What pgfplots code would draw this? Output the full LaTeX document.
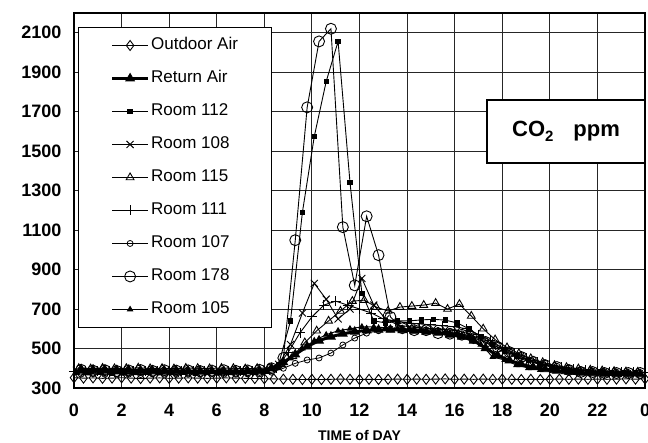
\documentclass[border=0pt]{standalone}
\usepackage{fontspec}
\setmainfont{Liberation Sans}
\usepackage{pgfplots}
\pgfplotsset{compat=1.18}

\begin{document}
\begin{tikzpicture}
\begin{axis}[
  at={(0pt,0pt)}, anchor=south west,
  scale only axis, width=571pt, height=375pt,
  xmin=0, xmax=24, ymin=300, ymax=2200,
  xtick={0,2,4,6,8,10,12,14,16,18,20,22,24},
  xticklabels={0,2,4,6,8,10,12,14,16,18,20,22,0},
  ytick={300,500,700,900,1100,1300,1500,1700,1900,2100},
  /pgf/number format/1000 sep={},
  /pgf/number format/assume math mode=true,
  tick label style={font=\bfseries\fontsize{18}{20}\selectfont},
  yticklabel style={xshift=-9pt},
  xticklabel style={anchor=north, text height=13pt, text depth=0pt, yshift=-12pt},
  tick style={draw=none},
  grid=major,
  grid style={black!85, line width=1pt},
  axis line style={line width=2pt},
  xlabel={TIME of DAY},
  xlabel style={font=\bfseries\fontsize{14}{16}\selectfont, at={(axis description cs:0.5,0)}, anchor=center, yshift=-48pt},
  legend image code/.code={\draw[mark repeat=2,mark phase=2] plot coordinates {(0pt,0pt)(18pt,0pt)(36pt,0pt)};},
  legend style={at={(rel axis cs:0.007,0.963)}, anchor=north west,
    draw=black, line width=1.2pt, fill=white,
    font=\fontsize{17}{20}\selectfont,
    inner xsep=32pt, inner ysep=8.5pt, row sep=14pt,
    nodes={inner sep=1.5pt, text height=12pt, text depth=4pt},
    cells={anchor=west}},
]

% Outdoor Air
\addplot[black, line width=0.9pt, mark=diamond, mark size=5pt, mark options={fill=white, line width=0.9pt}] table {
0.0 352
0.4 350
0.8 351
1.2 349
1.6 350
2.0 352
2.4 350
2.8 348
3.2 350
3.6 351
4.0 349
4.4 350
4.8 351
5.2 350
5.6 349
6.0 350
6.4 351
6.8 350
7.2 349
7.6 348
8.0 347
8.4 346
8.8 345
9.2 344
9.6 343
10.0 344
10.4 343
10.8 344
11.2 345
11.6 344
12.0 343
12.4 344
12.8 343
13.2 344
13.6 345
14.0 344
14.4 345
14.8 344
15.2 345
15.6 346
16.0 344
16.4 345
16.8 344
17.2 345
17.6 344
18.0 345
18.4 344
18.8 343
19.2 344
19.6 343
20.0 344
20.4 345
20.8 344
21.2 345
21.6 344
22.0 345
22.4 344
22.8 345
23.2 346
23.6 345
24.0 346
};
\addlegendentry{Outdoor Air}

% Return Air
\addplot[black, line width=3pt, mark=triangle*, mark size=5pt, mark options={line width=0.8pt}] table {
0.3 395
0.8 393
1.3 392
1.8 390
2.3 390
2.8 388
3.3 388
3.8 387
4.3 387
4.8 386
5.3 386
5.8 385
6.3 385
6.8 385
7.3 386
7.8 388
8.3 400
8.8 430
9.3 470
9.8 510
10.3 540
10.8 560
11.3 575
11.8 585
12.3 592
12.8 595
13.3 595
13.8 593
14.3 590
14.8 585
15.3 580
15.8 570
16.3 560
16.8 540
17.3 502
17.8 465
18.3 440
18.8 420
19.3 405
19.8 395
20.3 388
20.8 382
21.3 378
21.8 375
22.3 372
22.8 370
23.3 370
23.8 370
};
\addlegendentry{Return Air}

% Room 112
\addplot[black, line width=0.9pt, mark=square*, mark size=2.2pt] table {
0.1 380
0.6 378
1.1 381
1.6 377
2.1 380
2.6 379
3.1 382
3.6 378
4.1 380
4.6 379
5.1 377
5.6 380
6.1 381
6.6 378
7.1 380
7.6 379
8.1 385
8.6 420
9.1 640
9.6 1190
10.1 1575
10.6 1853
11.1 2056
11.6 1342
12.1 780
12.6 640
13.1 630
13.6 640
14.1 640
14.6 645
15.1 648
15.6 644
16.1 630
16.6 600
17.1 560
17.6 520
18.1 488
18.6 460
19.1 440
19.6 420
20.1 405
20.6 395
21.1 390
21.6 385
22.1 382
22.6 380
23.1 380
23.6 379
};
\addlegendentry{Room 112}

% Room 108
\addplot[black, line width=0.9pt, mark=x, mark size=5pt, mark options={line width=0.9pt}] table {
0.1 390
0.6 388
1.1 391
1.6 389
2.1 390
2.6 387
3.1 390
3.6 389
4.1 391
4.6 388
5.1 390
5.6 389
6.1 388
6.6 390
7.1 389
7.6 391
8.1 395
8.6 420
9.1 520
9.6 680
10.1 830
10.6 750
11.1 650
11.6 700
12.1 855
12.6 720
13.1 650
13.6 620
14.1 610
14.6 605
15.1 600
15.6 595
16.1 590
16.6 575
17.1 545
17.6 510
18.1 480
18.6 455
19.1 435
19.6 420
20.1 408
20.6 398
21.1 390
21.6 385
22.1 382
22.6 380
23.1 378
23.6 378
};
\addlegendentry{Room 108}

% Room 115
\addplot[black, line width=0.9pt, mark=triangle, mark size=4.5pt, mark options={fill=white, line width=0.9pt}] table {
0.2 400
0.7 398
1.2 401
1.7 399
2.2 400
2.7 402
3.2 399
3.7 400
4.2 398
4.7 401
5.2 400
5.7 399
6.2 401
6.7 400
7.2 398
7.7 400
8.2 402
8.7 420
9.2 460
9.7 530
10.2 590
10.7 640
11.2 690
11.7 740
12.2 745
12.7 710
13.2 690
13.7 710
14.2 715
14.7 720
15.2 730
15.7 700
16.2 725
16.7 665
17.2 600
17.7 545
18.2 505
18.7 475
19.2 450
19.7 430
20.2 415
20.7 405
21.2 398
21.7 392
22.2 388
22.7 385
23.2 383
23.7 382
};
\addlegendentry{Room 115}

% Room 111
\addplot[black, line width=0.9pt, mark=+, mark size=5pt, mark options={line width=0.9pt}] table {
0.0 385
0.5 384
1.0 386
1.5 385
2.0 383
2.5 385
3.0 386
3.5 384
4.0 385
4.5 386
5.0 384
5.5 385
6.0 383
6.5 385
7.0 386
7.5 384
8.0 388
8.5 400
9.0 480
9.5 580
10.0 660
10.5 720
11.0 740
11.5 720
12.0 700
12.5 680
13.0 650
13.5 640
14.0 630
14.5 625
15.0 620
15.5 615
16.0 610
16.5 600
17.0 570
17.5 540
18.0 505
18.5 475
19.0 450
19.5 430
20.0 415
20.5 405
21.0 395
21.5 390
22.0 385
22.5 383
23.0 380
23.5 380
24.0 380
};
\addlegendentry{Room 111}

% Room 107
\addplot[black, line width=0.8pt, mark=o, mark size=3pt, mark options={fill=white, line width=0.8pt}] table {
0.3 370
0.8 372
1.3 369
1.8 371
2.3 370
2.8 368
3.3 371
3.8 370
4.3 369
4.8 371
5.3 370
5.8 372
6.3 369
6.8 370
7.3 371
7.8 372
8.3 380
8.8 400
9.3 425
9.8 442
10.3 452
10.8 477
11.3 518
11.8 553
12.3 578
12.8 590
13.3 600
13.8 600
14.3 598
14.8 595
15.3 590
15.8 585
16.3 575
16.8 560
17.3 540
17.8 515
18.3 490
18.8 465
19.3 445
19.8 425
20.3 410
20.8 400
21.3 392
21.8 386
22.3 382
22.8 380
23.3 378
23.8 378
};
\addlegendentry{Room 107}

% Room 178
\addplot[black, line width=0.9pt, mark=o, mark size=5.5pt, mark options={fill=white, line width=0.9pt}] table {
0.3 392
0.8 388
1.3 390
1.8 386
2.3 389
2.8 391
3.3 387
3.8 390
4.3 388
4.8 389
5.3 386
5.8 388
6.3 390
6.8 387
7.3 389
7.8 392
8.3 400
8.8 452
9.3 1049
9.8 1722
10.3 2056
10.8 2120
11.3 1115
11.8 820
12.3 1170
12.8 973
13.3 660
13.8 603
14.3 593
14.8 593
15.3 578
15.8 575
16.3 570
16.8 553
17.3 533
17.8 508
18.3 482
18.8 457
19.3 432
19.8 416
20.3 406
20.8 391
21.3 381
21.8 381
22.3 376
22.8 376
23.3 376
23.8 376
};
\addlegendentry{Room 178}

% Room 105
\addplot[black, line width=0.9pt, mark=triangle*, mark size=3pt] table {
0.1 375
0.6 374
1.1 376
1.6 375
2.1 373
2.6 375
3.1 376
3.6 374
4.1 375
4.6 376
5.1 374
5.6 375
6.1 373
6.6 375
7.1 376
7.6 377
8.1 382
8.6 400
9.1 450
9.6 500
10.1 540
10.6 570
11.1 590
11.6 600
12.1 610
12.6 610
13.1 605
13.6 600
14.1 595
14.6 590
15.1 585
15.6 580
16.1 575
16.6 560
17.1 520
17.6 457
18.1 442
18.6 416
19.1 401
19.6 392
20.1 385
20.6 380
21.1 376
21.6 373
22.1 372
22.6 371
23.1 370
23.6 370
};
\addlegendentry{Room 105}

\node[draw=black, line width=1.8pt, fill=white, minimum width=158pt, minimum height=63pt,
      inner sep=0pt, font=\bfseries\fontsize{22}{24}\selectfont]
  at (rel axis cs:0.8617,0.684) {CO\raisebox{-5pt}{\fontsize{15}{15}\selectfont 2}\hspace{20pt}ppm};
\end{axis}
\pgfresetboundingbox
\useasboundingbox (-74pt,-55pt) rectangle (574pt,388pt);
\end{tikzpicture}
\end{document}
